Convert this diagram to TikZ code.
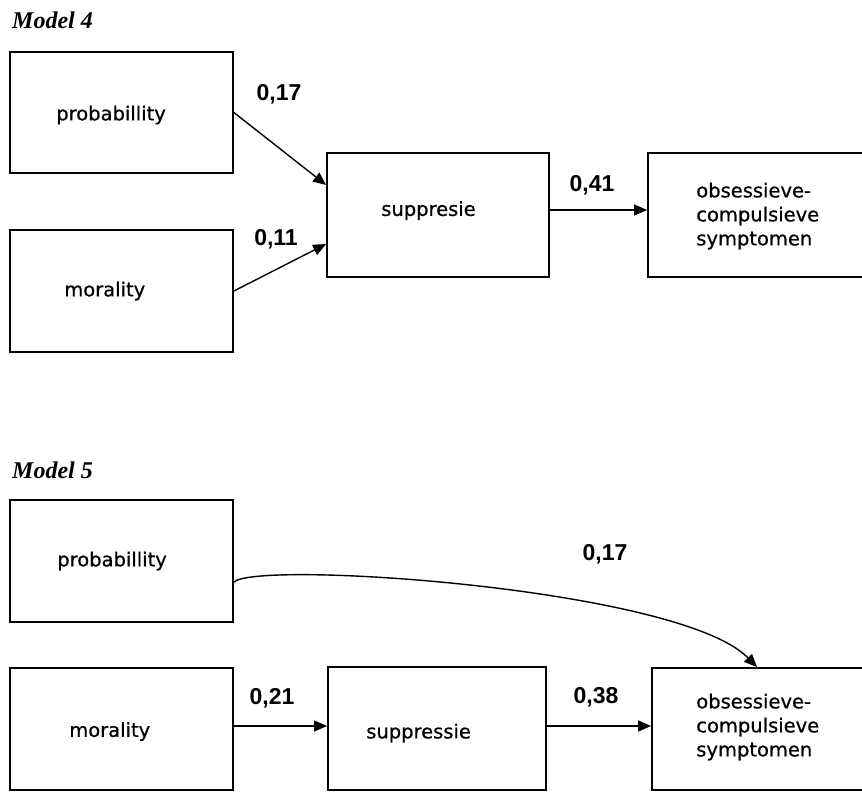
\documentclass[tikz,border=0pt]{standalone}
\usepackage{fontspec}
\usetikzlibrary{arrows.meta,calc}
\newfontfamily\boxfont{DejaVu Sans}[FakeBold=0.6]
\newfontfamily\numfont{Liberation Sans}[BoldFont={Liberation Sans Bold}]
\newfontfamily\titlefont{Liberation Serif}[BoldItalicFont={Liberation Serif Bold Italic}]
\begin{document}
\begin{tikzpicture}[x=1pt,y=-1pt,
  box/.style={draw=black,line width=1.8pt,rectangle,inner sep=0pt},
  txt/.style={anchor=west,inner sep=0pt,font=\boxfont\fontsize{19.5}{24}\selectfont,align=left},
  num/.style={inner sep=0pt,font=\numfont\bfseries\fontsize{23}{25}\selectfont},
  ttl/.style={anchor=base west,inner sep=0pt,font=\titlefont\bfseries\itshape\fontsize{24}{26}\selectfont},
  arr/.style={line width=1.4pt,-{Triangle[length=13pt,width=11pt]}}]
\clip (0,0) rectangle (862,793);
\fill[white] (0,0) rectangle (862,793);
% Model 4
\node[ttl] (t4) at (12,28) {Model 4};
\node[box,minimum width=223pt,minimum height=121pt] (p1) at (121.5,112.5) {};
\node[box,minimum width=223pt,minimum height=122pt] (m1) at (121.5,291) {};
\node[box,minimum width=222pt,minimum height=124pt] (s1) at (438,215) {};
\node[box,minimum width=232pt,minimum height=124pt] (o1) at (764,215) {};
\node[txt] (p1t) at ([xshift=47pt,yshift=-2.5pt]p1.west) {probabillity};
\node[txt] (m1t) at ([xshift=55pt]m1.west) {morality};
\node[txt] (s1t) at ([xshift=55pt,yshift=4.5pt]s1.west) {suppresie};
\node[txt] (o1t) at ([xshift=49pt,yshift=-1pt]o1.west) {obsessieve-\\compulsieve\\symptomen};
\draw[arr] (p1.east) -- ([yshift=30pt]s1.west);
\draw[arr] (m1.east) -- ([yshift=-29pt]s1.west);
\draw[arr] ([yshift=5pt]s1.east) -- ([yshift=5pt]s1.east -| o1.west);
\node[num] (l17a) at (279,94) {0,17};
\node[num] (l11) at (276,239) {0,11};
\node[num] (l41) at (592,185) {0,41};
% Model 5
\node[ttl] (t5) at (12,478) {Model 5};
\node[box,minimum width=223pt,minimum height=122pt] (p2) at (121.5,561) {};
\node[box,minimum width=223pt,minimum height=122pt] (m2) at (121.5,729) {};
\node[box,minimum width=218pt,minimum height=123pt] (s2) at (437,728.5) {};
\node[box,minimum width=228pt,minimum height=122pt] (o2) at (766,729) {};
\node[txt] (p2t) at ([xshift=48pt]p2.west) {probabillity};
\node[txt] (m2t) at ([xshift=60pt,yshift=-2.5pt]m2.west) {morality};
\node[txt] (s2t) at ([xshift=39pt,yshift=-4.5pt]s2.west) {suppressie};
\node[txt] (o2t) at ([xshift=45pt,yshift=2pt]o2.west) {obsessieve-\\compulsieve\\symptomen};
\coordinate (cs) at ([yshift=-21pt]p2.east);
\coordinate (ce) at ([xshift=-9pt]o2.north);
\draw[arr] (cs) .. controls (258,560) and (680,588) .. (ce);
\draw[arr] ([yshift=3pt]m2.east) -- ([yshift=3pt]m2.east -| s2.west);
\draw[arr] ([yshift=2.5pt]s2.east) -- ([yshift=2.5pt]s2.east -| o2.west);
\node[num] (l17b) at (605,554) {0,17};
\node[num] (l21) at (272,698) {0,21};
\node[num] (l38) at (596,697) {0,38};
\end{tikzpicture}
\end{document}
